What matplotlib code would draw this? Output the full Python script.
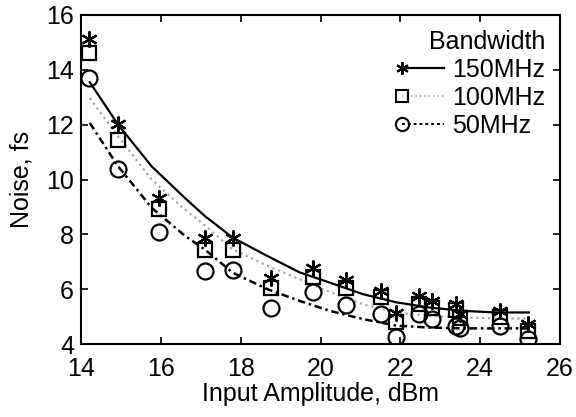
import numpy as np
import matplotlib
matplotlib.use("Agg")
import matplotlib.pyplot as plt
from matplotlib.legend_handler import HandlerLine2D

plt.rcParams['font.family'] = ['Liberation Sans', 'DejaVu Sans']

# measured points
x_pts = [14.2, 14.92, 15.95, 17.1, 17.8, 18.77, 19.81, 20.64, 21.52, 21.88,
         22.48, 22.79, 23.4, 23.5, 24.49, 25.21]
noise_150 = [15.13, 12.04, 9.33, 7.85, 7.85, 6.42, 6.76, 6.34, 5.94, 5.13,
             5.75, 5.57, 5.45, 5.1, 5.21, 4.73]
noise_100 = [14.62, 11.45, 8.91, 7.43, 7.43, 6.06, 6.46, 6.06, 5.7, 4.79,
             5.45, 5.33, 5.25, 4.95, 4.97, 4.48]
noise_50 = [13.71, 10.39, 8.1, 6.67, 6.69, 5.3, 5.9, 5.42, 5.09, 4.24,
            5.09, 4.91, 4.65, 4.6, 4.67, 4.18]

# fitted curves
fit_x = [14.22, 14.93, 15.77, 16.6, 17.1, 17.8, 18.67, 19.48, 20.23, 21.06,
         21.9, 22.73, 23.56, 24.39, 25.22]
fit_150 = [13.55, 12.0, 10.48, 9.33, 8.67, 7.88, 7.21, 6.61, 6.24, 5.82,
           5.52, 5.33, 5.21, 5.15, 5.15]
fit_100 = [12.97, 11.57, 10.0, 8.91, 8.33, 7.45, 6.85, 6.36, 5.9, 5.45,
           5.15, 5.03, 4.97, 4.93, 4.93]
fit_50 = [12.06, 10.48, 8.97, 7.95, 7.45, 6.6, 6.0, 5.57, 5.21, 4.91,
          4.67, 4.6, 4.57, 4.57, 4.57]

labels = ['150MHz', '100MHz', '50MHz']
x_ticks = [14, 16, 18, 20, 22, 24, 26]
y_ticks = [4, 6, 8, 10, 12, 14, 16]

FS = 18

fig = plt.figure(figsize=(5.76, 4.17), dpi=100)
ax = fig.add_axes([81/576, 1-344/417, (560-81)/576, (344-15)/417])

ax.plot(fit_x, fit_150, '-', color='black', lw=1.6)
ax.plot(fit_x, fit_100, ':', color='#a8a8a8', lw=1.6)
ax.plot(fit_x, fit_50, color='black', lw=1.8, dashes=(3, 1.5, 1, 1.5))

mk = dict(linestyle='none', markerfacecolor='none', markeredgecolor='black', markeredgewidth=1.6)
ax.plot(x_pts, noise_150, marker=(6, 2, 0), markersize=11.5, **mk)
ax.plot(x_pts, noise_100, marker='s', markersize=9.5, **mk)
ax.plot(x_pts, noise_50, marker='o', markersize=11.5, **mk)

# legend proxies
h1, = ax.plot([], [], '-', color='black', lw=1.6, marker=(6, 2, 0), markersize=9,
              markerfacecolor='none', markeredgecolor='black', markeredgewidth=1.5)
h2, = ax.plot([], [], ':', color='#a8a8a8', lw=1.2, marker='s', markersize=8,
              markerfacecolor='none', markeredgecolor='black', markeredgewidth=1.5)
h3, = ax.plot([], [], color='black', lw=1.4, dashes=(1.5, 1.5), marker='o', markersize=9.5,
              markerfacecolor='none', markeredgecolor='black', markeredgewidth=1.5)


class LeftMarker(HandlerLine2D):
    def create_artists(self, *args, **kwargs):
        arts = super().create_artists(*args, **kwargs)
        for a in arts:
            if a.get_marker() not in (None, 'None', ''):
                a.set_markevery([0])
        return arts


leg = ax.legend([h1, h2, h3], labels, title='Bandwidth', loc='upper right',
                frameon=False, fontsize=FS, title_fontsize=FS, alignment='right',
                handlelength=2.3, handletextpad=0.0, labelspacing=0.16,
                borderaxespad=0.3, borderpad=0.3, numpoints=2,
                handler_map={h1: LeftMarker(numpoints=2), h2: LeftMarker(numpoints=2),
                             h3: LeftMarker(numpoints=2)})

ax.set_xlim(14, 26)
ax.set_ylim(4, 16)
ax.set_xticks(x_ticks)
ax.set_yticks(y_ticks)
ax.tick_params(direction='in', top=True, right=True, length=5, width=1.2,
               labelsize=FS, pad=5)
ax.tick_params(axis='x', pad=9)
for s in ax.spines.values():
    s.set_linewidth(1.5)
ax.set_xlabel('Input Amplitude, dBm', fontsize=FS, labelpad=1)
ax.set_ylabel('Noise, fs', fontsize=FS, labelpad=9)

fig.savefig('out.png', dpi=100)
